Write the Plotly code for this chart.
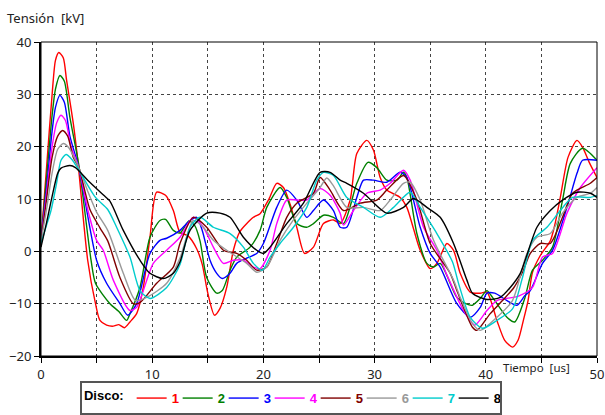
import plotly.graph_objects as go

# ---- data (time in us, voltage in kV) ----
t1 = [0, 0.5, 1.0, 1.3, 1.6, 2.0, 2.3, 2.9, 3.3, 4.2, 4.9, 5.3, 5.9, 6.5, 7.0, 7.5, 8.0, 8.6, 9.2, 9.8,
      10.4, 11.2, 11.9, 12.5, 13.2, 14.0, 14.5, 15.0, 15.6, 16.1, 16.7, 17.3, 17.9, 19.1, 19.7, 20.5,
      21.2, 21.8, 22.4, 23.0, 23.7, 24.5, 25.4, 26.3, 26.9, 27.8, 28.4, 29.3, 29.9, 30.5, 31.1, 32.3,
      32.9, 33.5, 34.1, 35.0, 35.6, 36.5, 37.1, 37.7, 38.6, 39.5, 40.1, 41.0, 41.7, 42.4, 42.9, 43.4,
      43.8, 44.2, 44.9, 45.8, 46.2, 46.7, 47.4, 48.2, 48.7, 49.3, 50.0]
v1 = [2, 16, 30, 36.5, 38, 37, 32.7, 24.5, 17.5, -1.7, -10, -13.2, -14.1, -14.3, -14.0, -14.6, -13.5,
      -11.9, -6.9, 2.7, 11.3, 10.7, 7.8, 3.6, 3.0, 0.5, -2.5, -8, -12.2, -10.9, -6.9, 0.2, 3.8, 6.5,
      7.2, 10, 13, 12.2, 9, 4.6, -0.4, 0.8, 5.3, 6, 5.3, 9.8, 18.7, 21.2, 19.3, 14.1, 11.7, 10.3, 8.4,
      4.3, 0.2, -3.3, -2.3, 1.5, 0.2, -4.2, -7.8, -8, -7.8, -13.2, -17, -18.3, -17, -13, -9.4, -4,
      -0.8, 2.0, 5, 10.3, 18, 21.2, 19.9, 17, 14.1]

t2 = [0, 0.5, 1.0, 1.3, 1.7, 2.1, 2.6, 3.4, 4.5, 4.9, 6.2, 7.0, 7.7, 8.0, 8.9, 9.8, 10.7, 11.2, 11.9,
      12.5, 13.3, 13.8, 14.3, 14.9, 15.8, 16.3, 17.0, 17.6, 18.8, 19.7, 20.3, 21.5, 22.1, 23.0, 23.9,
      24.5, 25.4, 26.3, 27.2, 28.4, 29.4, 30.2, 31.1, 32.0, 32.6, 32.9, 33.8, 34.7, 35.3, 35.9, 37.4,
      38.2, 38.8, 39.5, 40.1, 40.6, 41.9, 42.6, 43.5, 44.2, 45.1, 46.0, 46.9, 47.6, 48.7, 50.0]
v2 = [2, 14, 26, 31, 33.6, 32.5, 25.6, 16.5, -1.7, -6.1, -10, -11.5, -13.2, -11.9, -6.9, 2.7, 5.9, 6.1,
      4, 3.5, 5.8, 5, 2, -5, -8, -7.5, -3.6, -1.1, 0.8, 4, 8.4, 12.2, 10.3, 5.3, 4.6, 5.3, 6.9, 6.5,
      5.3, 13, 17, 16, 13.6, 13.6, 15.1, 14.1, 3.4, -2.3, -3, -2.3, -8.8, -10, -10.3, -9, -7.5, -8.8,
      -12.6, -13.5, -9, -3.6, -1.7, 0.8, 9.8, 16.8, 19.7, 17.4]

t3 = [0, 0.5, 1.0, 1.3, 1.7, 2.1, 2.6, 3.4, 5.0, 5.9, 7.1, 7.8, 8.6, 9.8, 10.7, 11.3, 12.5, 13.4, 14.0,
      14.5, 15.2, 15.8, 16.3, 17.0, 17.6, 18.5, 19.4, 20.0, 21.2, 22.1, 23.0, 23.9, 24.5, 25.4, 26.3,
      26.9, 27.5, 28.4, 29.0, 29.9, 31.1, 32.3, 32.9, 34.1, 35.0, 35.9, 37.4, 38.6, 39.5, 40.1, 40.8,
      41.9, 42.8, 43.5, 44.0, 45.1, 46.0, 47.3, 48.2, 48.7, 50.0]
v3 = [2, 12, 23, 27.5, 29.8, 28.5, 22, 16, -1.7, -6.1, -10, -12.2, -10, -0.4, 2.1, 2.5, 4, 5.9, 6.5, 4,
      -1.7, -4.2, -5.2, -4.2, -2.3, -1.3, -0.4, 1.5, 8.4, 11.7, 9.8, 6.5, 7.8, 9.8, 7.8, 4.6, 4.6,
      10.3, 13.6, 13.6, 13.2, 15.1, 14.1, 4.6, -0.4, -3, -10, -12.6, -10.7, -8, -8, -9.4, -10.3, -8.5,
      -7.5, -2.3, 0.2, 8.4, 14.9, 17.4, 17.4]

t4 = [0, 0.5, 1.0, 1.4, 1.8, 2.2, 2.7, 3.4, 4.2, 5.0, 5.6, 6.5, 8.0, 8.6, 10.1, 11.3, 12.5, 13.7, 14.6,
      15.5, 16.4, 17.3, 18.2, 19.1, 19.7, 20.6, 21.2, 22.1, 23.0, 23.9, 25.1, 26.0, 26.9, 27.2, 28.1,
      29.3, 30.5, 31.4, 32.6, 33.2, 34.4, 35.6, 36.5, 38.0, 39.0, 40.1, 41.0, 41.9, 43.0, 44.2, 45.1,
      46.0, 47.3, 48.5, 50.0]
v4 = [2, 11, 20, 24.5, 26, 25, 20, 16, 8, 2.1, 0.2, -5.5, -11.3, -10.7, -2.3, 0.2, 2.7, 6.5, 4.6, 0.8,
      -2.3, -1.7, -1.7, -3, -3.3, 0.2, 5.3, 9.8, 9.8, 9.8, 12, 10.7, 7.3, 5, 7.8, 11.1, 11.7, 13, 15.5,
      13.6, 4.6, 0.2, -4.5, -11.3, -14.1, -11.3, -9.4, -9, -8.5, -6.9, -1.1, -0.4, 7.3, 12.2, 16]

t5 = [0, 0.5, 1.0, 1.5, 1.95, 2.4, 2.9, 3.4, 4.4, 5.3, 6.0, 7.1, 8.3, 8.9, 10.4, 11.9, 12.5, 13.7, 14.9,
      16.4, 17.6, 18.5, 19.4, 20.3, 21.2, 22.1, 23.0, 24.5, 25.1, 26.0, 27.2, 28.7, 30.2, 31.1, 32.6,
      33.8, 35.0, 36.8, 37.4, 38.8, 39.2, 40.4, 41.5, 42.5, 43.3, 44.0, 44.9, 45.8, 46.9, 47.8, 49.4,
      50.0]
v5 = [2, 10, 18, 22, 23.1, 22, 18, 16, 8, 4.5, 2, -5, -10, -9.8, -6.1, -3, 1.5, 6.5, 4.6, 0.2, -0.4,
      -1.7, -3.6, -3, 1.5, 6.5, 9.2, 11.1, 14.1, 11.7, 7.8, 9.2, 9.8, 11.7, 14.5, 9.8, 1.5, -4.2, -7.5,
      -14.5, -15.1, -11.9, -9.4, -7, -4, -0.4, 1.5, 1.5, 6.5, 11.1, 13, 14.1]

t6 = [0, 0.5, 1.0, 1.5, 2.0, 2.5, 3.3, 4.2, 5.0, 6.0, 7.4, 8.5, 9.5, 11.3, 12.5, 13.7, 14.6, 15.5, 16.7,
      18.5, 19.4, 20.3, 21.5, 22.7, 23.9, 25.1, 25.7, 26.3, 27.5, 29.0, 30.5, 31.4, 32.6, 33.2, 34.1,
      35.3, 37.1, 37.7, 38.8, 39.5, 41.0, 42.4, 43.7, 44.6, 45.8, 46.9, 48.2, 49.4, 50.0]
v6 = [2, 8, 15, 19.5, 20.6, 19.8, 16.5, 11.5, 7.5, 4, -4.2, -9.4, -8.8, -6.1, -1.3, 5.9, 4.6, 2.1, 0.2,
      -2.3, -4, -3, 2.1, 6, 9.2, 12.2, 14, 12.5, 8.4, 8.4, 7.8, 9.8, 13, 13.2, 9.8, 2.1, -5.5, -8.8,
      -13.8, -15.1, -12.6, -9.4, -0.4, 2.7, 3.4, 7.3, 10.3, 11.1, 12.2]

t7 = [0, 0.5, 0.9, 1.4, 1.8, 2.25, 2.8, 3.3, 4.9, 6.0, 6.8, 8.0, 8.9, 9.8, 11.3, 12.5, 13.4, 14.3, 15.5,
      17.0, 18.2, 19.1, 19.9, 20.6, 21.5, 22.7, 23.9, 24.8, 25.4, 26.3, 27.5, 29.0, 30.5, 31.7, 33.2,
      34.1, 35.6, 37.0, 37.6, 38.6, 39.7, 41.0, 42.4, 43.3, 44.2, 45.5, 46.7, 47.8, 49.4, 50.0]
v7 = [1.5, 5, 7.8, 13, 17.4, 18.5, 17.5, 15.9, 10.3, 8, 4.6, -1.1, -7.5, -9, -6.9, -2.5, 4.6, 6.5, 4.6,
      3.4, 0.8, -2.3, -3.6, -1.1, 1.5, 4.6, 8.4, 13.6, 15.1, 14.5, 10.3, 8.4, 6.5, 8.4, 11.3, 8.4, 3.4,
      -2, -6.5, -12.6, -14.7, -13.2, -11, -5, 2.1, 4.6, 7.8, 10.3, 10.3, 10.7]

t8 = [0, 0.5, 1.0, 1.5, 1.8, 2.6, 3.1, 4.2, 5.7, 6.2, 7.4, 8.9, 9.8, 11.0, 11.9, 12.5, 13.4, 14.9, 16.1,
      17.0, 18.2, 19.4, 20.0, 20.6, 22.1, 23.6, 25.1, 26.0, 26.9, 27.5, 29.0, 31.1, 32.6, 33.5, 34.7,
      35.9, 37.1, 38.3, 38.8, 40.1, 41.3, 42.2, 43.1, 44.6, 45.8, 46.9, 48.2, 49.4, 50.0]
v8 = [0.8, 5.5, 10.5, 14.9, 15.9, 16.4, 16, 13.6, 10.6, 9.6, 4, -1.7, -4.2, -5.2, -4.2, -2, 4, 7.3, 7.3,
      6.5, 2.7, 0.2, -0.4, 0.8, 5.3, 9.2, 15.1, 15.1, 13.6, 13, 11.1, 7.3, 8.4, 10.1, 8.4, 6.5, 1.5,
      -5.5, -8, -9.2, -8.8, -6.9, -4.2, 4.6, 7.8, 9.8, 11.3, 11.1, 10.3]

series_names = ["1", "2", "3", "4", "5", "6", "7", "8"]
series_colors = ["#FF0000", "#008000", "#0000FF", "#FF00FF", "#800000", "#999999", "#00CCCC", "#000000"]
series_t = [t1, t2, t3, t4, t5, t6, t7, t8]
series_v = [v1, v2, v3, v4, v5, v6, v7, v8]

x_tickvals = [0, 5, 10, 15, 20, 25, 30, 35, 40, 45, 50]
x_ticktext = ["0", "", "10", "", "20", "", "30", "", "40", "", "50"]
y_tickvals = [-20, -10, 0, 10, 20, 30, 40]

fig = go.Figure()
for name, col, tt, vv in zip(series_names, series_colors, series_t, series_v):
    fig.add_trace(go.Scatter(
        x=tt, y=vv, mode="lines",
        line=dict(color=col, width=1.4, shape="spline", smoothing=0.7),
        name=f"<span style='color:{col}'><b>{name}</b></span>",
    ))

axis_font = dict(family="Noto Sans, Open Sans, sans-serif", size=13, color="#222222")
fig.update_layout(
    width=605, height=415,
    margin=dict(l=41, r=8, t=42, b=59, autoexpand=False),
    paper_bgcolor="white", plot_bgcolor="white",
    showlegend=True,
    legend=dict(
        orientation="h", x=0.07, xanchor="left", y=-0.08, yanchor="top",
        bordercolor="#555555", borderwidth=2, bgcolor="white",
        font=dict(family="Arial, Liberation Sans, sans-serif", size=13, color="#000000"),
        title=dict(text="<b>Disco:</b>", side="left",
                   font=dict(family="Arial, Liberation Sans, sans-serif", size=13, color="#000000")),
        itemwidth=30, tracegroupgap=0, entrywidth=1, entrywidthmode="pixels",
    ),
    xaxis=dict(
        range=[0, 50], tickmode="array", tickvals=x_tickvals, ticktext=x_ticktext,
        showgrid=True, gridcolor="#444444", griddash="dot", gridwidth=1,
        showline=True, linecolor="black", linewidth=2,
        ticks="outside", ticklen=5, tickcolor="black", tickwidth=1,
        tickfont=axis_font, zeroline=False,
    ),
    yaxis=dict(
        range=[-20, 40], tickmode="array", tickvals=y_tickvals,
        showgrid=True, gridcolor="#444444", griddash="dot", gridwidth=1,
        showline=True, linecolor="black", linewidth=2,
        ticks="outside", ticklen=5, tickcolor="black", tickwidth=1,
        tickfont=axis_font, zeroline=False,
    ),
    shapes=[dict(type="rect", xref="paper", yref="paper", x0=0, x1=1, y0=0, y1=1,
                 line=dict(color="black", width=1), fillcolor="rgba(0,0,0,0)", layer="above")],
    annotations=[
        dict(text="Tensión  [kV]", xref="paper", yref="paper", x=-0.065, y=1.076,
             xanchor="left", yanchor="middle", showarrow=False,
             font=dict(family="Noto Sans, Open Sans, sans-serif", size=13, color="#222222")),
        dict(text="Tiempo  [us]", xref="paper", yref="paper", x=0.892, y=-0.036,
             xanchor="center", yanchor="middle", showarrow=False,
             font=dict(family="Noto Sans, Open Sans, sans-serif", size=11.5, color="#222222")),
    ],
)

# remove the default page margin so the 605x415 figure fills the window exactly
fig.write_html("out.html", config={"displayModeBar": False},
               post_script="document.body.style.margin='0';")
